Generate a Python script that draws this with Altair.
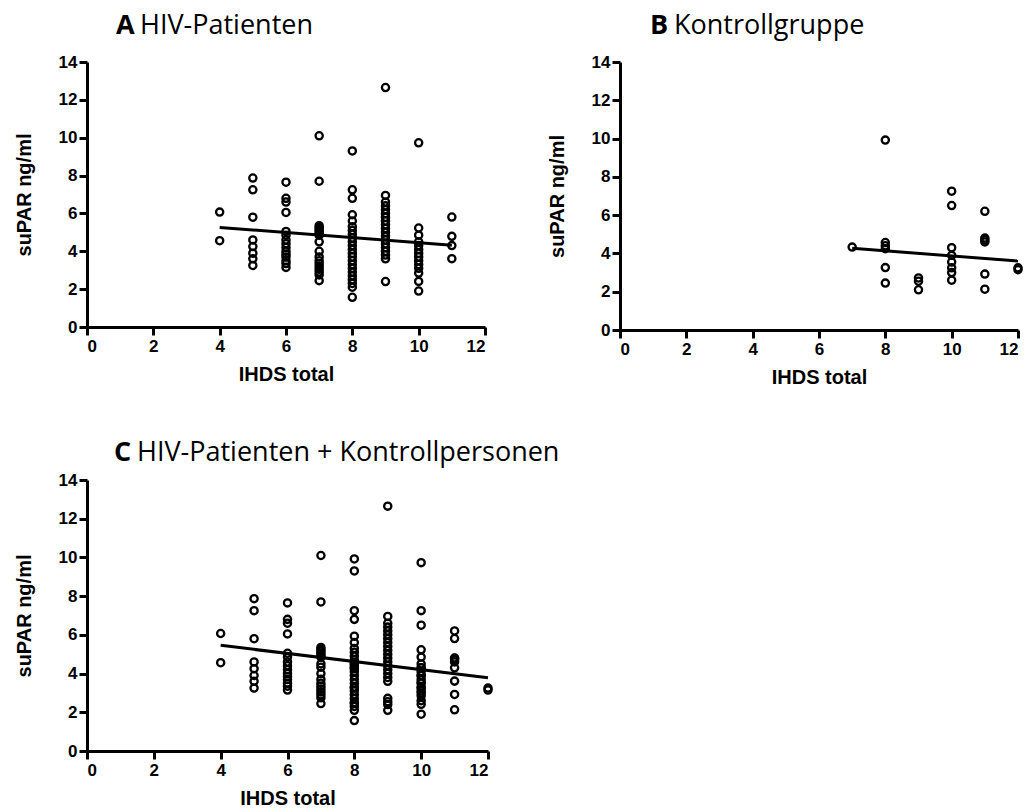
import altair as alt
import pandas as pd

# IHDS total score (x) and suPAR concentration in ng/ml (y), grouped by score
ihds_hiv = [4, 5, 6, 7, 8, 9, 10, 11]
supar_hiv = [
    [6.07, 4.56],
    [7.87, 7.25, 5.8, 4.6, 4.25, 3.9, 3.6, 3.25],
    [7.65, 6.8, 6.6, 6.05, 5.05, 4.85, 4.6, 4.4, 4.2, 4.0, 3.85, 3.7, 3.5, 3.35, 3.15],
    [10.1, 7.7, 5.35, 5.25, 5.15, 5.05, 4.95, 4.85, 4.5, 4.0, 3.7, 3.5, 3.35,
     3.2, 3.05, 2.9, 2.75, 2.45],
    [9.3, 7.25, 6.8, 5.93, 5.6, 5.3, 5.1, 4.9, 4.7, 4.5, 4.3, 4.1, 3.9, 3.7,
     3.5, 3.3, 3.1, 2.9, 2.7, 2.5, 2.3, 2.1, 1.57],
    [12.65, 6.95, 6.6, 6.4, 6.2, 6.0, 5.8, 5.6, 5.4, 5.2, 5.0, 4.8, 4.6, 4.4,
     4.2, 4.0, 3.8, 3.6, 2.4],
    [9.73, 5.23, 4.85, 4.5, 4.3, 4.1, 3.9, 3.7, 3.5, 3.3, 3.1, 2.85, 2.41, 1.9],
    [5.81, 4.79, 4.3, 3.61],
]

ihds_ctrl = [7, 8, 9, 10, 11, 12]
supar_ctrl = [
    [4.33],
    [9.92, 4.57, 4.4, 4.25, 3.26, 2.45],
    [2.72, 2.55, 2.1],
    [7.25, 6.5, 4.3, 3.9, 3.55, 3.25, 3.0, 2.6],
    [6.2, 4.8, 4.7, 4.6, 2.92, 2.13],
    [3.25, 3.15],
]

# Linear fit lines (start and end of each fitted segment)
fit_hiv_x, fit_hiv_y = [4, 11], [5.26, 4.32]
fit_ctrl_x, fit_ctrl_y = [7, 12], [4.27, 3.6]
fit_all_x, fit_all_y = [4, 12], [5.46, 3.78]

x_ticks = [0, 2, 4, 6, 8, 10, 12]
y_ticks = [0, 2, 4, 6, 8, 10, 12, 14]


def long_table(scores, values):
    rows = [(s, v) for s, col in zip(scores, values) for v in col]
    return pd.DataFrame(rows, columns=["ihds", "supar"])


hiv = long_table(ihds_hiv, supar_hiv)
ctrl = long_table(ihds_ctrl, supar_ctrl)
both = pd.concat([hiv, ctrl], ignore_index=True)

TITLE_FONT = "Open Sans"
TITLE_SIZE = 27


def panel(points, fit_x, fit_y, letter, label, letter_dx, label_dx, title_dy, w, h):
    x = alt.X(
        "ihds:Q",
        scale=alt.Scale(domain=[0, 12], nice=False, zero=False),
        axis=alt.Axis(values=x_ticks, title="IHDS total", titlePadding=10,
                      labelPadding=3),
    )
    y = alt.Y(
        "supar:Q",
        scale=alt.Scale(domain=[0, 14], nice=False),
        axis=alt.Axis(values=y_ticks, title="suPAR ng/ml", titlePadding=24,
                      labelPadding=2),
    )
    dots = alt.Chart(points).mark_point(
        shape="circle", filled=False, color="black", strokeWidth=2.3, size=52,
        opacity=1,
    ).encode(x=x, y=y)

    fit = alt.Chart(pd.DataFrame({"ihds": fit_x, "supar": fit_y})).mark_line(
        color="black", strokeWidth=3
    ).encode(x=x, y=y)

    head = alt.Chart(pd.DataFrame({"t": [letter]})).mark_text(
        font=TITLE_FONT, fontWeight="bold", fontSize=TITLE_SIZE, align="left",
        baseline="alphabetic", color="black",
    ).encode(text="t:N", x=alt.value(letter_dx), y=alt.value(title_dy))

    name = alt.Chart(pd.DataFrame({"t": [label]})).mark_text(
        font=TITLE_FONT, fontWeight="normal", fontSize=TITLE_SIZE, align="left",
        baseline="alphabetic", color="black",
    ).encode(text="t:N", x=alt.value(label_dx), y=alt.value(title_dy))

    return alt.layer(dots, fit, head, name).properties(width=w, height=h)


panel_a = panel(hiv, fit_hiv_x, fit_hiv_y, "A", "HIV-Patienten", 29, 53, -28, 398, 265)
panel_b = panel(ctrl, fit_ctrl_x, fit_ctrl_y, "B", "Kontrollgruppe", 30, 54, -28, 398, 268)
panel_c = panel(both, fit_all_x, fit_all_y, "C", "HIV-Patienten + Kontrollpersonen",
                27, 50, -19, 401, 271)

chart = alt.vconcat(
    alt.hconcat(panel_a, panel_b, spacing=60),
    panel_c,
    spacing=52,
).properties(
    padding={"left": 14, "top": 12, "right": 5, "bottom": 5},
    background="white",
).configure_view(
    stroke=None
).configure_axis(
    grid=False,
    domainColor="black",
    domainWidth=3,
    tickColor="black",
    tickWidth=3,
    tickSize=8,
    labelFont="Liberation Sans",
    labelFontWeight="bold",
    labelFontSize=17,
    labelColor="black",
    titleFont="Liberation Sans",
    titleFontWeight="bold",
    titleFontSize=20,
    titleColor="black",
)

chart.save("out.html", embed_options={"renderer": "svg", "actions": False})
